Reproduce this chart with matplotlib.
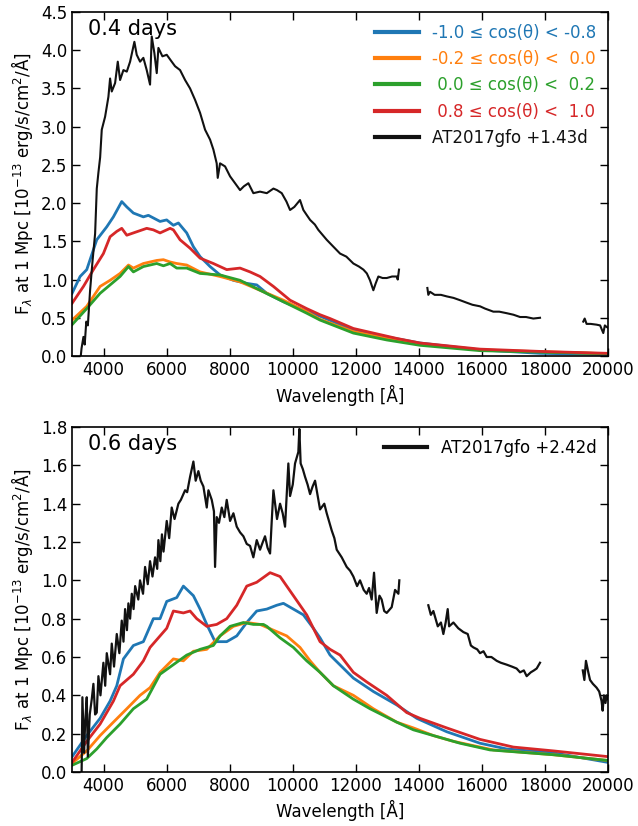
import numpy as np
import matplotlib
matplotlib.use("Agg")
import matplotlib.pyplot as plt

# ---------- 0.4 days panel ----------
wl_top = [3000, 3254, 3465, 3782, 4100, 4310, 4575, 4735, 4944, 5261, 5420, 5790, 6000, 6213, 6372,
          6636, 6847, 7060, 7377, 7694, 8117, 8540, 8857, 9176, 9703, 10230, 10810, 11922, 12980,
          14037, 15940, 17843, 20000]
blue_top = [0.82, 1.04, 1.13, 1.52, 1.69, 1.82, 2.02, 1.95, 1.87, 1.82, 1.84, 1.76, 1.78, 1.71, 1.74,
            1.61, 1.43, 1.30, 1.17, 1.06, 0.99, 0.95, 0.93, 0.82, 0.71, 0.62, 0.53, 0.34, 0.25,
            0.17, 0.08, 0.035, 0.02]

wl_top2 = [3000, 3360, 3676, 3993, 4205, 4417, 4575, 4735, 4944, 5367, 5578, 5790, 6108, 6213, 6425,
           6742, 7060, 7480, 7905, 8328, 8645, 8962, 9386, 9914, 10442, 10865, 11183, 11922, 12556,
           13297, 14037, 15940, 17843, 20000]
red_top = [0.69, 0.91, 1.13, 1.34, 1.56, 1.63, 1.67, 1.58, 1.61, 1.67, 1.65, 1.61, 1.67, 1.65, 1.52,
           1.41, 1.28, 1.21, 1.13, 1.15, 1.10, 1.04, 0.91, 0.73, 0.62, 0.54, 0.49, 0.36, 0.30,
           0.23, 0.17, 0.09, 0.06, 0.035]

wl_top3 = [3000, 3465, 3888, 4205, 4522, 4788, 4944, 5261, 5685, 5896, 6108, 6319, 6636, 7060, 7694,
           8328, 8962, 9703, 10442, 10865, 11922, 12980, 14037, 15940, 20000]
orange_top = [0.47, 0.65, 0.91, 0.99, 1.08, 1.19, 1.15, 1.21, 1.25, 1.26, 1.23, 1.21, 1.19, 1.10, 1.04,
              0.97, 0.86, 0.73, 0.58, 0.48, 0.32, 0.23, 0.16, 0.08, 0.03]
green_top = [0.41, 0.62, 0.82, 0.93, 1.04, 1.17, 1.10, 1.17, 1.21, 1.18, 1.21, 1.15, 1.15, 1.08, 1.06,
             0.99, 0.86, 0.71, 0.56, 0.47, 0.30, 0.21, 0.14, 0.07, 0.03]

obs_top_wl = [[3250, 3300, 3360, 3400, 3450, 3500, 3571, 3650, 3730, 3783, 3835, 3890, 3941, 4047,
               4152, 4205, 4258, 4364, 4449, 4522, 4628, 4735, 4840, 4976, 5050, 5156, 5261, 5367,
               5473, 5526, 5611, 5685, 5738, 5865, 6002, 6160, 6267, 6425, 6584, 6742, 6901, 7060,
               7218, 7377, 7482, 7587, 7620, 7694, 7852, 8011, 8170, 8328, 8450, 8592, 8750, 8960,
               9176, 9386, 9500, 9650, 9800, 9914, 10050, 10230, 10336, 10450, 10550, 10700, 10810,
               11077, 11288, 11500, 11700, 11922, 12100, 12240, 12350, 12450, 12556, 12630, 12715,
               12850, 12980, 13150, 13297, 13330, 13370],
              [14270, 14300, 14354, 14500, 14700, 14883, 15100, 15306, 15500, 15700, 15940, 16100,
               16363, 16550, 16786, 17000, 17210, 17400, 17630, 17843],
              [19215, 19260, 19320, 19450, 19637, 19750, 19850, 19900, 19955, 20000]]
obs_top_f = [[-0.1, 0.1, 0.25, 0.15, 0.45, 0.40, 0.86, 1.25, 1.60, 2.19, 2.40, 2.60, 2.96, 3.13,
              3.39, 3.63, 3.46, 3.57, 3.85, 3.61, 3.74, 3.72, 3.85, 4.11, 3.94, 3.85, 3.90, 3.74,
              3.55, 4.18, 3.96, 3.70, 4.03, 3.92, 3.94, 3.85, 3.79, 3.74, 3.61, 3.50, 3.35, 3.18,
              2.96, 2.83, 2.70, 2.52, 2.33, 2.52, 2.48, 2.35, 2.26, 2.17, 2.22, 2.26, 2.13, 2.15,
              2.13, 2.19, 2.17, 2.13, 2.02, 1.91, 1.95, 2.04, 1.91, 1.84, 1.78, 1.72, 1.65,
              1.52, 1.43, 1.34, 1.30, 1.21, 1.17, 1.13, 1.08, 0.99, 0.86, 0.95, 1.04,
              1.02, 1.02, 1.04, 1.04, 1.00, 1.13],
             [0.89, 0.80, 0.84, 0.80, 0.80, 0.78, 0.76, 0.73, 0.70, 0.67, 0.65, 0.62,
              0.58, 0.58, 0.56, 0.54, 0.51, 0.51, 0.49, 0.50],
             [0.45, 0.49, 0.42, 0.42, 0.41, 0.40, 0.30, 0.40, 0.38, 0.37]]

# ---------- 0.6 days panel ----------
wl_bot = [3000, 3465, 3888, 4205, 4417, 4628, 4944, 5261, 5578, 5790, 6002, 6319, 6530, 6847, 7060,
          7272, 7535, 7905, 8223, 8540, 8857, 9176, 9490, 9703, 10020, 10336, 10653, 10865, 11183,
          11922, 12556, 13297, 13932, 14883, 15940, 16786, 18266, 20000]
blue_bot = [0.08, 0.19, 0.28, 0.37, 0.45, 0.59, 0.66, 0.68, 0.80, 0.80, 0.89, 0.91, 0.97, 0.92, 0.85,
            0.77, 0.68, 0.68, 0.71, 0.78, 0.84, 0.85, 0.87, 0.88, 0.85, 0.82, 0.75, 0.70, 0.61,
            0.49, 0.42, 0.35, 0.28, 0.21, 0.15, 0.12, 0.10, 0.05]

wl_bot2 = [3000, 3465, 3888, 4310, 4522, 4944, 5261, 5473, 5790, 6002, 6213, 6530, 6742, 6953, 7272,
           7587, 7905, 8223, 8540, 8857, 9280, 9597, 10020, 10442, 10865, 11183, 11500, 11922, 12345,
           12980, 13614, 14037, 14883, 15940, 16997, 18266, 20000]
red_bot = [0.05, 0.16, 0.25, 0.37, 0.45, 0.51, 0.58, 0.65, 0.71, 0.75, 0.84, 0.83, 0.84, 0.80, 0.76,
           0.77, 0.80, 0.87, 0.97, 0.99, 1.04, 1.02, 0.92, 0.82, 0.68, 0.64, 0.61, 0.52, 0.47,
           0.40, 0.31, 0.28, 0.23, 0.17, 0.13, 0.11, 0.08]

wl_bot3 = [3000, 3465, 3888, 4310, 4735, 5155, 5473, 5790, 6213, 6530, 6847, 7272, 7694, 8117, 8540,
           8962, 9386, 9809, 10230, 10550, 10865, 11288, 11922, 12556, 13297, 13826, 14460, 15095,
           15940, 16363, 18266, 20000]
orange_bot = [0.045, 0.11, 0.19, 0.26, 0.33, 0.40, 0.44, 0.52, 0.59, 0.58, 0.63, 0.64, 0.71, 0.76, 0.78,
              0.77, 0.74, 0.71, 0.65, 0.58, 0.52, 0.45, 0.40, 0.33, 0.26, 0.23, 0.19, 0.16,
              0.13, 0.115, 0.09, 0.06]

wl_bot4 = [3000, 3465, 3782, 4100, 4522, 4944, 5367, 5790, 6213, 6636, 7060, 7480, 7694, 8012, 8434,
           8750, 9068, 9176, 9597, 10020, 10442, 10865, 11288, 11922, 12450, 13297, 13826, 14460,
           15306, 16258, 18266, 20000]
green_bot = [0.035, 0.07, 0.12, 0.18, 0.25, 0.33, 0.38, 0.51, 0.56, 0.61, 0.64, 0.66, 0.71, 0.76, 0.78,
             0.77, 0.77, 0.76, 0.70, 0.65, 0.58, 0.52, 0.45, 0.38, 0.33, 0.26, 0.22, 0.19,
             0.15, 0.115, 0.09, 0.06]

obs_bot_wl = [[3300, 3307, 3327, 3380, 3412, 3465, 3500, 3560, 3624, 3676, 3730, 3782, 3835, 3900,
               3993, 4050, 4100, 4205, 4258, 4330, 4417, 4500, 4575, 4630, 4681, 4740, 4786, 4840,
               4893, 4950, 5000, 5100, 5155, 5250, 5315, 5400, 5473, 5550, 5632, 5700, 5738, 5800,
               5850, 5900, 6002, 6080, 6160, 6250, 6372, 6450, 6584, 6650, 6742, 6848, 6920, 7006,
               7080, 7165, 7272, 7325, 7430, 7500, 7535, 7588, 7660, 7747, 7830, 7905, 8011, 8117,
               8223, 8330, 8434, 8540, 8645, 8750, 8857, 8962, 9050, 9120, 9200, 9280, 9333, 9386,
               9500, 9597, 9680, 9755, 9860, 9914, 10000, 10072, 10177, 10209, 10250, 10320, 10390,
               10470, 10549, 10630, 10707, 10865, 11000, 11077, 11236, 11320, 11394, 11553, 11711,
               11820, 11922, 12040, 12133, 12250, 12345, 12420, 12503, 12578, 12662, 12750, 12820,
               12900, 12980, 13138, 13245, 13350, 13380],
              [14300, 14380, 14460, 14600, 14700, 14777, 14850, 14915, 14960, 15095, 15250, 15412,
               15550, 15650, 15730, 15850, 15940, 16050, 16152, 16300, 16470, 16600, 16786, 16950,
               17100, 17210, 17330, 17420, 17550, 17650, 17737, 17843],
              [19200, 19250, 19300, 19375, 19430, 19520, 19637, 19720, 19796, 19830, 19870, 19920,
               19955, 20000]]
obs_bot_f = [[-0.02, 0.06, 0.39, 0.10, 0.25, 0.39, 0.08, 0.30, 0.38, 0.46, 0.30, 0.31, 0.50, 0.40,
              0.57, 0.45, 0.62, 0.51, 0.67, 0.55, 0.72, 0.62, 0.79, 0.68, 0.85, 0.74, 0.88, 0.80,
              0.93, 0.85, 0.97, 0.90, 1.00, 0.93, 1.07, 0.98, 1.10, 1.02, 1.12, 1.06, 1.21, 1.10,
              1.24, 1.15, 1.31, 1.22, 1.38, 1.32, 1.40, 1.42, 1.47, 1.46, 1.54, 1.62, 1.52, 1.57,
              1.52, 1.49, 1.38, 1.47, 1.42, 1.36, 1.07, 1.33, 1.30, 1.38, 1.33, 1.42, 1.31, 1.35,
              1.28, 1.25, 1.23, 1.19, 1.18, 1.12, 1.21, 1.16, 1.20, 1.23, 1.17, 1.14, 1.31, 1.47,
              1.32, 1.40, 1.35, 1.28, 1.61, 1.44, 1.50, 1.61, 1.67, 1.79, 1.61, 1.58, 1.54,
              1.50, 1.45, 1.49, 1.52, 1.37, 1.40, 1.35, 1.26, 1.22, 1.16, 1.12, 1.07,
              1.05, 1.02, 0.97, 1.00, 0.95, 0.93, 0.96, 0.90, 1.04, 0.83, 0.92, 0.90,
              0.84, 0.83, 0.86, 0.95, 0.93, 1.00],
             [0.87, 0.82, 0.84, 0.76, 0.78, 0.72, 0.78, 0.85, 0.76, 0.78, 0.75, 0.73,
              0.72, 0.66, 0.65, 0.64, 0.62, 0.63, 0.60, 0.60, 0.58, 0.57, 0.56, 0.55,
              0.54, 0.52, 0.53, 0.50, 0.52, 0.53, 0.54, 0.57],
             [0.53, 0.48, 0.58, 0.52, 0.48, 0.46, 0.44, 0.42, 0.37, 0.32, 0.40, 0.36,
              0.40, 0.38]]

labels = ["-1.0 \u2264 cos(\u03b8) < -0.8", "-0.2 \u2264 cos(\u03b8) <  0.0",
          " 0.0 \u2264 cos(\u03b8) <  0.2", " 0.8 \u2264 cos(\u03b8) <  1.0"]
colors = ["#1f77b4", "#ff7f0e", "#2ca02c", "#d62728"]

plt.rcParams["font.size"] = 12
fig = plt.figure(figsize=(6.38, 8.26), dpi=100)
ax1 = fig.add_axes([0.113, 0.569, 0.840, 0.4165])
ax2 = fig.add_axes([0.113, 0.0654, 0.840, 0.4176])

# top panel
ax1.plot(wl_top, blue_top, color=colors[0], lw=2, label=labels[0])
ax1.plot(wl_top3, orange_top, color=colors[1], lw=2, label=labels[1])
ax1.plot(wl_top3, green_top, color=colors[2], lw=2, label=labels[2])
ax1.plot(wl_top2, red_top, color=colors[3], lw=2, label=labels[3])
for i, (w, f) in enumerate(zip(obs_top_wl, obs_top_f)):
    ax1.plot(w, f, color="#111111", lw=1.5, label="AT2017gfo +1.43d" if i == 0 else None)
ax1.set_ylim(0, 4.5)
ax1.set_yticks(np.arange(0, 4.51, 0.5))
ax1.text(0.03, 0.98, "0.4 days", transform=ax1.transAxes, fontsize=15, va="top")
leg = ax1.legend(loc="upper right", frameon=False, fontsize=12, handlelength=2.6,
                 borderaxespad=0.3)
for txt, line in zip(leg.get_texts(), leg.get_lines()):
    txt.set_color(line.get_color())
    line.set_linewidth(3)

# bottom panel
ax2.plot(wl_bot, blue_bot, color=colors[0], lw=2)
ax2.plot(wl_bot3, orange_bot, color=colors[1], lw=2)
ax2.plot(wl_bot4, green_bot, color=colors[2], lw=2)
ax2.plot(wl_bot2, red_bot, color=colors[3], lw=2)
for i, (w, f) in enumerate(zip(obs_bot_wl, obs_bot_f)):
    ax2.plot(w, f, color="#111111", lw=1.6, label="AT2017gfo +2.42d" if i == 0 else None)
ax2.set_ylim(0, 1.8)
ax2.set_yticks(np.arange(0, 1.81, 0.2))
ax2.text(0.03, 0.98, "0.6 days", transform=ax2.transAxes, fontsize=15, va="top")
leg2 = ax2.legend(loc="upper right", frameon=False, fontsize=12, handlelength=2.6,
                  borderaxespad=0.3)
for line in leg2.get_lines():
    line.set_linewidth(3)

for ax in (ax1, ax2):
    ax.set_xlim(3000, 20000)
    ax.set_xticks(np.arange(4000, 20001, 2000))
    ax.tick_params(direction="in", top=True, right=True, length=6, width=1)
    ax.set_xlabel("Wavelength [\u00c5]")
    ax.set_ylabel("F$_\\lambda$ at 1 Mpc [10$^{-13}$ erg/s/cm$^2$/\u00c5]")
    for s in ax.spines.values():
        s.set_linewidth(1.2)

fig.savefig("out.png", dpi=100)
